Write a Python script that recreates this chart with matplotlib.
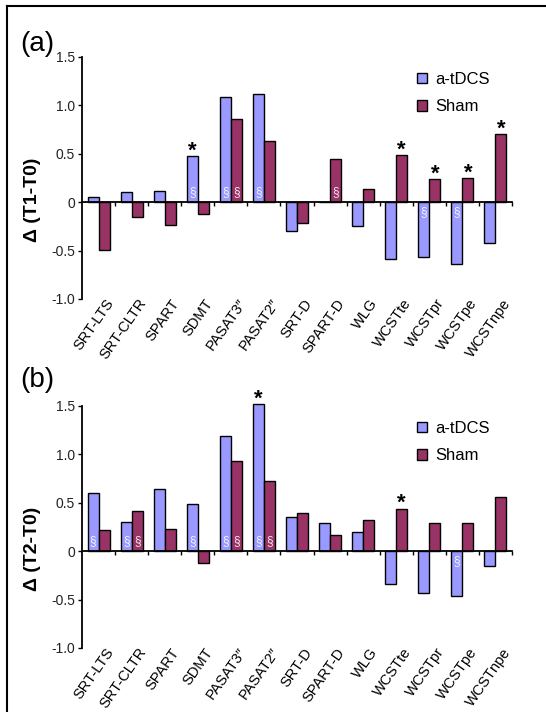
import matplotlib
matplotlib.use('Agg')
import matplotlib.pyplot as plt
import matplotlib.transforms as mtransforms
from matplotlib.lines import Line2D
import numpy as np

plt.rcParams['font.family'] = ['Liberation Sans', 'DejaVu Sans']

tests = ["SRT-LTS", "SRT-CLTR", "SPART", "SDMT", "PASAT3\u2033", "PASAT2\u2033",
         "SRT-D", "SPART-D", "WLG", "WCSTte", "WCSTpr", "WCSTpe", "WCSTnpe"]

# panel (a): T1 - T0
atdcs_t1 = [0.05, 0.10, 0.12, 0.48, 1.09, 1.12, -0.30, 0.0, -0.25, -0.59, -0.57, -0.64, -0.42]
sham_t1 = [-0.49, -0.15, -0.24, -0.12, 0.86, 0.63, -0.22, 0.45, 0.14, 0.49, 0.24, 0.25, 0.70]
# panel (b): T2 - T0
atdcs_t2 = [0.60, 0.30, 0.64, 0.49, 1.19, 1.52, 0.35, 0.29, 0.20, -0.34, -0.43, -0.46, -0.15]
sham_t2 = [0.22, 0.42, 0.23, -0.12, 0.93, 0.73, 0.39, 0.17, 0.32, 0.44, 0.29, 0.29, 0.56]

# significance marks: (test index, group) with group 0 = a-tDCS, 1 = Sham
stars_t1 = [(3, 0), (9, 1), (10, 1), (11, 1), (12, 1)]
stars_t2 = [(5, 0), (9, 1)]
sect_t1 = [(3, 0), (4, 0), (4, 1), (5, 0), (7, 1), (10, 0), (11, 0)]
sect_t2 = [(0, 0), (1, 0), (1, 1), (3, 0), (4, 0), (4, 1), (5, 0), (5, 1), (11, 0)]

c_atdcs = '#9999FF'
c_sham = '#993366'

fig = plt.figure(figsize=(5.46, 7.12), dpi=100)


def draw_panel(rect, a_vals, s_vals, stars, sects, ylab, tag, tag_y):
    ax = fig.add_axes(rect)
    n = len(tests)
    centers = np.arange(n) + 0.5
    w = 1 / 3
    xa = centers - w / 2
    xs = centers + w / 2
    ax.bar(xa, a_vals, w, color=c_atdcs, edgecolor='black', linewidth=1, label='a-tDCS',
           zorder=2, clip_on=False)
    ax.bar(xs, s_vals, w, color=c_sham, edgecolor='black', linewidth=1, label='Sham',
           zorder=2, clip_on=False)

    ax.set_xlim(0, n)
    ax.set_ylim(-1.0, 1.5)
    ax.set_yticks([-1.0, -0.5, 0, 0.5, 1.0, 1.5])
    ax.set_yticklabels(['-1.0', '-0.5', '0', '0.5', '1.0', '1.5'])
    ax.tick_params(axis='y', direction='out', length=3, width=1, labelsize=10,
                   labelcolor='#222222', pad=2)
    for s in ['top', 'right']:
        ax.spines[s].set_visible(False)
    ax.spines['left'].set_linewidth(1.3)
    ax.spines['bottom'].set_position(('data', 0))
    ax.spines['bottom'].set_linewidth(1.3)
    ax.set_xticks(np.arange(1, n + 1))
    ax.tick_params(axis='x', direction='out', length=3, width=1, labelbottom=False)

    sec = ax.secondary_xaxis('bottom')
    sec.set_xticks(centers)
    sec.set_xticklabels(tests, rotation=55, ha='right', va='center',
                        rotation_mode='anchor', fontsize=10.5)
    sec.tick_params(length=0, pad=1)
    sec.spines['bottom'].set_visible(False)
    shift = mtransforms.ScaledTranslation(0.12, 0, fig.dpi_scale_trans)
    for lab in sec.get_xticklabels():
        lab.set_transform(lab.get_transform() + shift)

    ax.set_ylabel(ylab, fontsize=14, fontweight='bold', va='center')
    ax.yaxis.set_label_coords(-0.114, 0.41)

    ax.legend(loc='upper left', bbox_to_anchor=(0.745, 1.0), frameon=False,
              fontsize=12, handlelength=0.6, handleheight=0.6,
              handletextpad=0.5, labelspacing=0.75)

    vals = [a_vals, s_vals]
    xpos = [xa, xs]
    for i, g in stars:
        ax.annotate('*', (xpos[g][i], vals[g][i]), xytext=(0, -4), textcoords='offset points',
                    ha='center', va='bottom', fontsize=16, fontweight='bold',
                    annotation_clip=False)
    for i, g in sects:
        v = vals[g][i]
        off = 7 if v > 0 else -7
        ax.annotate('\u00a7', (xpos[g][i], 0), xytext=(0, off), textcoords='offset points',
                    ha='center', va='center', fontsize=8.5, color='white', alpha=0.9,
                    zorder=3)

    fig.text(20 / 546, tag_y, tag, fontsize=20, ha='left', va='center')
    return ax


draw_panel([0.1502, 0.5801, 0.7875, 0.3399], atdcs_t1, sham_t1, stars_t1, sect_t1,
           '\u0394 (T1-T0)', '(a)', 1 - 44 / 712)
draw_panel([0.1502, 0.0899, 0.7875, 0.3399], atdcs_t2, sham_t2, stars_t2, sect_t2,
           '\u0394 (T2-T0)', '(b)', 1 - 380 / 712)

# outer frame (top and left edges visible in the source image)
fig.add_artist(Line2D([7 / 546, 1.0], [1 - 6 / 712, 1 - 6 / 712], color='black', linewidth=1.5))
fig.add_artist(Line2D([7 / 546, 7 / 546], [0.0, 1 - 6 / 712], color='black', linewidth=1.5))

fig.savefig('out.png', dpi=100)
